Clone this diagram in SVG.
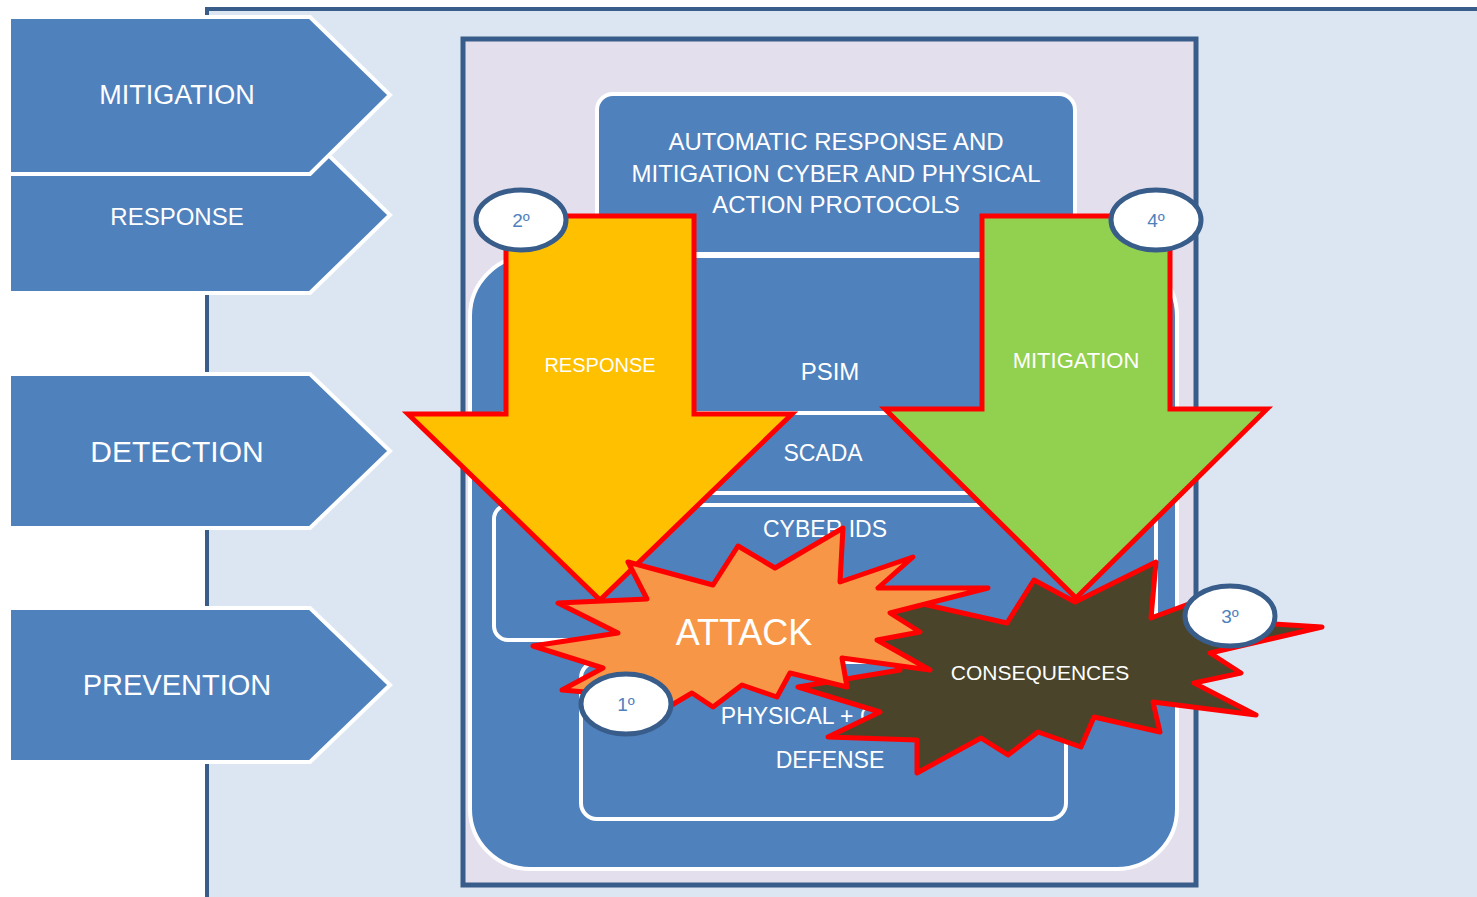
<svg xmlns="http://www.w3.org/2000/svg" width="1477" height="897" viewBox="0 0 1477 897">
<defs>
<style>
.t{font-family:"Liberation Sans",Arial,sans-serif;fill:#fff;text-anchor:middle}
.chev{fill:#4F81BD;stroke:#fff;stroke-width:4;stroke-linejoin:miter}
.box{fill:#4F81BD;stroke:#fff;stroke-width:4}
.burst{stroke:#FF0000;stroke-width:5;stroke-linejoin:round}
.bigarrow{stroke:#FF0000;stroke-width:5;stroke-linejoin:miter}
.step{fill:#fff;stroke:#385D8A;stroke-width:5}
.stept{font-family:"Liberation Sans",Arial,sans-serif;fill:#4F81BD;text-anchor:middle;font-size:19px}
</style>
</defs>
<rect x="0" y="0" width="1477" height="897" fill="#fff"/>
<!-- background panel -->
<g id="panel">
<rect x="207" y="9" width="1290" height="900" fill="#DCE6F2"/>
<line x1="205" y1="9" x2="1477" y2="9" stroke="#385D8A" stroke-width="4"/>
<line x1="207" y1="7" x2="207" y2="897" stroke="#385D8A" stroke-width="4"/>
</g>
<!-- left phase chevrons -->
<g id="phase-response">
<polygon class="chev" points="9,137 310,137 390,215 310,293 9,293"/>
<text class="t" x="177" y="225" font-size="24">RESPONSE</text>
</g>
<g id="phase-mitigation">
<polygon class="chev" points="9,17 310,17 390,95 310,174 9,174"/>
<text class="t" x="177" y="104" font-size="27">MITIGATION</text>
</g>
<g id="phase-detection">
<polygon class="chev" points="9,374 310,374 390,451 310,528 9,528"/>
<text class="t" x="177" y="462" font-size="30">DETECTION</text>
</g>
<g id="phase-prevention">
<polygon class="chev" points="9,608 310,608 390,685 310,762 9,762"/>
<text class="t" x="177" y="695" font-size="29">PREVENTION</text>
</g>
<!-- system box -->
<g id="system">
<rect x="463" y="39" width="733" height="846" fill="#E4DFEC" stroke="#385D8A" stroke-width="5"/>
</g>
<g id="psim">
<rect class="box" x="470" y="256" width="707" height="613" rx="60" ry="60"/>
<text class="t" x="830" y="380" font-size="24">PSIM</text>
</g>
<g id="protocols">
<rect class="box" x="597" y="94" width="478" height="160" rx="16" ry="16" stroke-width="5"/>
<text class="t" x="836" y="150" font-size="24">AUTOMATIC RESPONSE AND</text>
<text class="t" x="836" y="182" font-size="24">MITIGATION CYBER AND PHYSICAL</text>
<text class="t" x="836" y="213" font-size="24">ACTION PROTOCOLS</text>
</g>
<g id="scada">
<rect class="box" x="494" y="413" width="662" height="80" rx="12" ry="12"/>
<text class="t" x="823" y="461" font-size="23">SCADA</text>
</g>
<g id="cyber-ids">
<rect class="box" x="494" y="505" width="662" height="135" rx="14" ry="14"/>
<text class="t" x="825" y="537" font-size="23">CYBER IDS</text>
</g>
<g id="defense">
<rect class="box" x="581" y="662" width="485" height="157" rx="16" ry="16"/>
<text class="t" x="830" y="724" font-size="23">PHYSICAL + CYBER</text>
<text class="t" x="830" y="768" font-size="23">DEFENSE</text>
</g>
<!-- flow arrows -->
<g id="connectors">
<g id="arrow-response">
<polygon class="bigarrow" fill="#FFC000" points="506,216 694,216 694,414 792,414 600,600 408,414 506,414"/>
<text class="t" x="600" y="372" font-size="20">RESPONSE</text>
</g>
<g id="arrow-mitigation">
<polygon class="bigarrow" fill="#92D050" points="982,216 1170,216 1170,409 1267,409 1076,598 885,409 982,409"/>
<text class="t" x="1076" y="368" font-size="22">MITIGATION</text>
</g>
</g>
<!-- bursts -->
<g id="consequences">
<polygon class="burst" fill="#4A452A" points="798,687 900,670 870,630 905,600 1007,623 1034,580 1075,602 1156,562 1151,618 1205,598 1240,622 1322,627 1210,653 1241,673 1194,683 1256,715 1153,702 1160,732 1094,717 1081,747 1038,732 1008,755 981,738 917,773 917,740 828,737 880,712"/>
<text class="t" x="1040" y="680" font-size="21">CONSEQUENCES</text>
</g>
<g id="attack">
<polygon class="burst" fill="#F79646" points="533,646 618,633 558,603 647,599 628,562 713,585 738,546 775,568 843,528 840,582 913,557 878,588 988,588 890,613 920,632 877,640 930,670 842,658 847,687 790,673 777,697 742,685 713,707 692,693 655,715 620,695 562,690 603,668"/>
<text class="t" x="744" y="645" font-size="36">ATTACK</text>
</g>
<!-- step markers -->
<g id="step-1">
<ellipse class="step" cx="626" cy="704" rx="45" ry="30"/>
<text class="stept" x="626" y="711">1º</text>
</g>
<g id="step-2">
<ellipse class="step" cx="521" cy="220" rx="45" ry="30"/>
<text class="stept" x="521" y="227">2º</text>
</g>
<g id="step-3">
<ellipse class="step" cx="1230" cy="616" rx="45" ry="30"/>
<text class="stept" x="1230" y="623">3º</text>
</g>
<g id="step-4">
<ellipse class="step" cx="1156" cy="220" rx="45" ry="30"/>
<text class="stept" x="1156" y="227">4º</text>
</g>
</svg>
